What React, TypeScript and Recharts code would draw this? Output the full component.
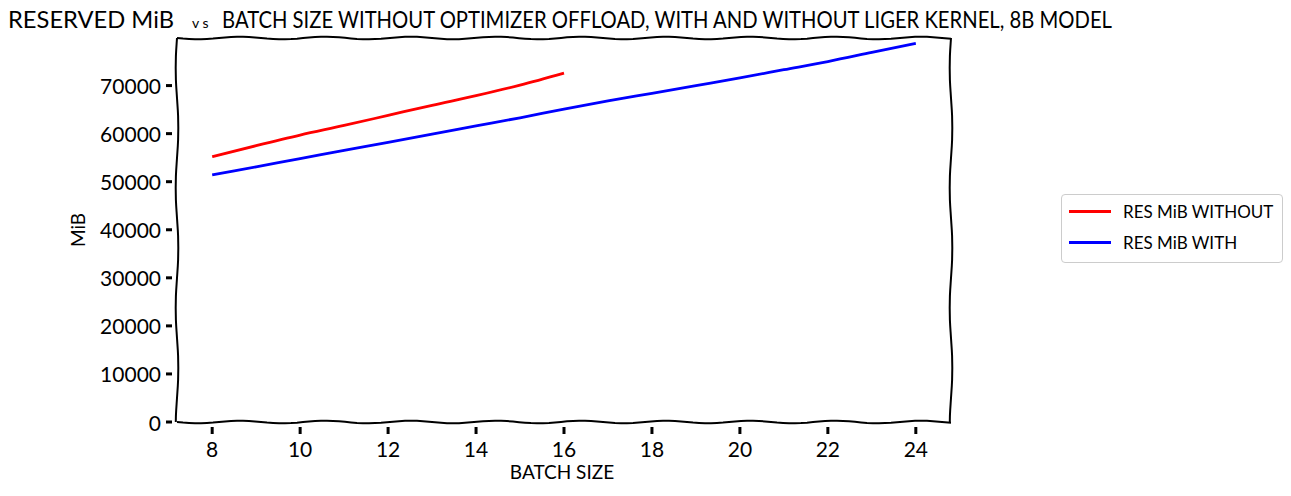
import React from 'react';
import { LineChart, Line, XAxis, YAxis, ReferenceArea, Legend } from 'recharts';

// batch sizes and reserved memory (MiB)
const batchSizes = [8, 9, 10, 11, 12, 13, 14, 15, 16, 17, 18, 19, 20, 21, 22, 23, 24];
const resWithout = [55200, 57500, 59700, 61700, 63800, 65900, 67900, 70100, 72600];
const resWith = [
  51400, 53100, 54800, 56500, 58200, 59900, 61600, 63300, 65100, 66800, 68400, 70000, 71600,
  73300, 75000, 76900, 78800,
];
const xTicks = [8, 10, 12, 14, 16, 18, 20, 22, 24];
const yTicks = [0, 10000, 20000, 30000, 40000, 50000, 60000, 70000];

const data = batchSizes.map((b, i) => ({
  batch: b,
  without: i < resWithout.length ? resWithout[i] : null,
  with: resWith[i],
}));

const FONT = 'Lato, "Open Sans", sans-serif';

// hand-drawn looking frame around the plot area
function wobble(x1: number, y1: number, x2: number, y2: number, amp: number, period: number) {
  const len = Math.hypot(x2 - x1, y2 - y1);
  const n = Math.max(2, Math.round(len / 6));
  const nx = -(y2 - y1) / len;
  const ny = (x2 - x1) / len;
  let d = '';
  for (let i = 0; i <= n; i++) {
    const t = i / n;
    const off = amp * Math.sin((t * len * 2 * Math.PI) / period);
    const px = x1 + (x2 - x1) * t + nx * off;
    const py = y1 + (y2 - y1) * t + ny * off;
    d += (i === 0 ? 'M' : 'L') + px.toFixed(1) + ',' + py.toFixed(1);
  }
  return d;
}

const WobblyFrame = (props: any) => {
  const { x, y, width, height } = props;
  const r = x + width;
  const b = y + height;
  return (
    <g fill="none" stroke="#000" strokeWidth={2}>
      <path d={wobble(x, y, r, y, 1.3, 85)} />
      <path d={wobble(x, b, r, b, 1.3, 85)} />
      <path d={wobble(x, y, x, b, 1.3, 120)} />
      <path d={wobble(r, y, r, b, 1.3, 120)} />
    </g>
  );
};

const YTick = (props: any) => {
  const { x, y, payload } = props;
  return (
    <g>
      <line x1={x - 11} x2={x - 5} y1={y} y2={y} stroke="#000" strokeWidth={3} />
      <text x={x - 16} y={y} textAnchor="end" dominantBaseline="central" fontSize={21} fontFamily={FONT} fill="#000">
        {payload.value}
      </text>
    </g>
  );
};

const XTick = (props: any) => {
  const { x, y, payload } = props;
  return (
    <g>
      <line x1={x} x2={x} y1={y + 5} y2={y + 12} stroke="#000" strokeWidth={3} />
      <text x={x} y={y + 26} textAnchor="middle" dominantBaseline="central" fontSize={21} fontFamily={FONT} fill="#000">
        {payload.value}
      </text>
    </g>
  );
};

const LegendBox = () => (
  <div
    style={{
      width: 220,
      height: 67,
      border: '1px solid #ccc',
      borderRadius: 4,
      background: '#fff',
      fontFamily: FONT,
      fontSize: 17,
      color: '#000',
      position: 'relative',
    }}
  >
    {[
      { label: 'RES MiB WITHOUT', color: 'red', top: 16 },
      { label: 'RES MiB WITH', color: 'blue', top: 47 },
    ].map((e) => (
      <div key={e.label} style={{ position: 'absolute', left: 7, top: e.top - 11, display: 'flex', alignItems: 'center', height: 22 }}>
        <div style={{ width: 42, height: 0, borderTop: `3px solid ${e.color}` }} />
        <span style={{ marginLeft: 12, whiteSpace: 'nowrap' }}>{e.label}</span>
      </div>
    ))}
  </div>
);

export default function App() {
  return (
    <div style={{ position: 'absolute', left: 0, top: 0, width: 1291, height: 496, background: '#fff' }}>
      <svg width={1291} height={40} style={{ position: 'absolute', left: 0, top: 0 }}>
        <g fontFamily={FONT} fill="#000">
          <text x={8} y={28} fontSize={23} textLength={166} lengthAdjust="spacingAndGlyphs">
            RESERVED MiB
          </text>
          <text x={192} y={28} fontSize={14}>
            v s
          </text>
          <text x={222} y={28} fontSize={23} textLength={890} lengthAdjust="spacingAndGlyphs">
            BATCH SIZE WITHOUT OPTIMIZER OFFLOAD, WITH AND WITHOUT LIGER KERNEL, 8B MODEL
          </text>
        </g>
      </svg>
      <LineChart
        width={1291}
        height={496}
        data={data}
        margin={{ top: 38, right: 340, bottom: 24, left: 77 }}
        style={{ position: 'absolute', left: 0, top: 0 }}
      >
        <XAxis
          dataKey="batch"
          type="number"
          domain={[7.2, 24.8]}
          ticks={xTicks}
          axisLine={false}
          tickLine={false}
          tickSize={0}
          tickMargin={0}
          height={50}
          tick={<XTick />}
        />
        <YAxis
          type="number"
          domain={[0, 79900]}
          ticks={yTicks}
          axisLine={false}
          tickLine={false}
          tickSize={0}
          tickMargin={0}
          width={100}
          tick={<YTick />}
        />
        <ReferenceArea x1={7.2} x2={24.8} y1={0} y2={79900} shape={<WobblyFrame />} ifOverflow="visible" />
        <Line
          type="monotone"
          dataKey="without"
          name="RES MiB WITHOUT"
          stroke="red"
          strokeWidth={2.8}
          dot={false}
          connectNulls={false}
          isAnimationActive={false}
        />
        <Line
          type="monotone"
          dataKey="with"
          name="RES MiB WITH"
          stroke="blue"
          strokeWidth={2.8}
          dot={false}
          isAnimationActive={false}
        />
        <Legend
          content={<LegendBox />}
          wrapperStyle={{
            position: 'absolute',
            left: 1061,
            top: 194,
            width: 222,
            height: 0,
            overflow: 'visible',
            bottom: 'auto',
            right: 'auto',
          }}
        />
      </LineChart>
      <svg width={1291} height={496} style={{ position: 'absolute', left: 0, top: 0, pointerEvents: 'none' }}>
        <text x={562} y={479} textAnchor="middle" fontSize={19} fontFamily={FONT} fill="#000">
          BATCH SIZE
        </text>
        <text
          x={85}
          y={230}
          textAnchor="middle"
          fontSize={19}
          fontFamily={FONT}
          fill="#000"
          transform="rotate(-90 85 230)"
        >
          MiB
        </text>
      </svg>
    </div>
  );
}
